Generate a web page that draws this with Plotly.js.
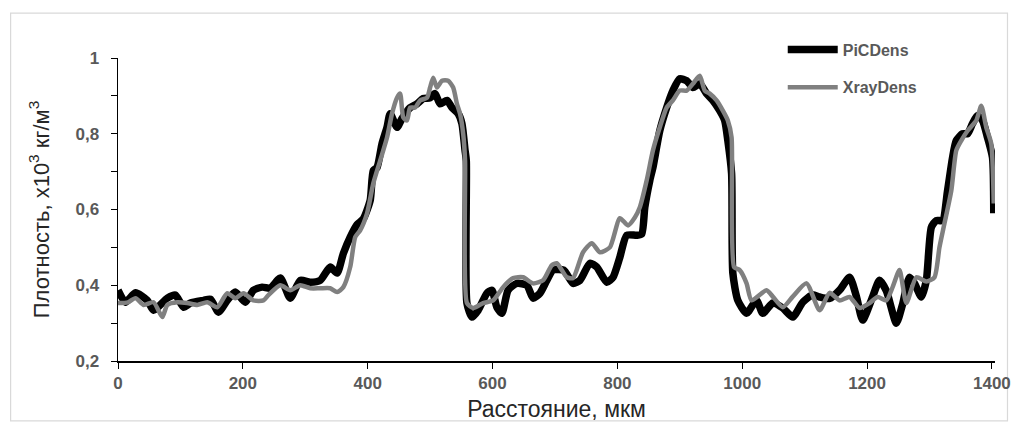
<!DOCTYPE html>
<html>
<head>
<meta charset="utf-8">
<script src="https://cdn.plot.ly/plotly-3.0.1.min.js"></script>
<style>html,body{margin:0;padding:0;background:#fff;}#chart{width:1019px;height:434px;}</style>
</head>
<body>
<div id="chart"></div>
<script>
// PiCDens (black)
var picX = [0,12,28,47,57,79,92,105,116,137,148,161,175,188,204,217,231,244,260,276,292,308,324,340,351,361,372,383,393,404,409,415,423,431,436,447,455,468,479,489,500,508,516,527,535,545,551,556,558,559,567,577,591,599,607,615,625,639,655,665,676,687,697,714,729,740,756,767,783,793,804,815,831,839,844,852,857,868,879,889,900,911,921,932,943,953,964,972,977,983,985,993,1007,1023,1033,1049,1065,1081,1097,1113,1124,1140,1156,1172,1183,1193,1209,1220,1231,1247,1257,1268,1276,1287,1295,1303,1311,1321,1329,1337,1343,1353,1361,1369,1377,1385,1393,1401,1403];
var picY = [0.387,0.355,0.38,0.36,0.334,0.366,0.374,0.342,0.353,0.36,0.363,0.329,0.36,0.382,0.355,0.387,0.395,0.392,0.419,0.366,0.413,0.408,0.413,0.448,0.432,0.484,0.527,0.56,0.575,0.624,0.703,0.711,0.774,0.817,0.853,0.817,0.84,0.869,0.879,0.893,0.895,0.906,0.879,0.888,0.869,0.853,0.827,0.756,0.729,0.353,0.316,0.334,0.379,0.387,0.342,0.326,0.387,0.405,0.40,0.366,0.379,0.413,0.44,0.44,0.405,0.413,0.458,0.448,0.408,0.421,0.474,0.532,0.532,0.535,0.606,0.677,0.711,0.808,0.869,0.914,0.945,0.94,0.922,0.932,0.906,0.888,0.861,0.835,0.782,0.695,0.432,0.36,0.326,0.36,0.326,0.353,0.34,0.316,0.355,0.375,0.369,0.365,0.387,0.421,0.37,0.308,0.37,0.413,0.385,0.30,0.35,0.421,0.405,0.369,0.413,0.553,0.571,0.571,0.65,0.737,0.782,0.80,0.80,0.827,0.848,0.835,0.79,0.737,0.59];

// XrayDens (grey)
var xrayX = [0,16,28,41,57,71,79,95,111,127,143,159,175,188,201,217,233,241,260,276,292,308,324,340,351,361,372,380,388,399,409,420,431,439,447,452,457,463,468,476,484,495,500,505,511,519,529,537,543,548,553,556,559,569,585,601,617,633,649,665,681,695,703,719,729,745,759,772,788,804,817,828,836,847,857,868,879,889,900,911,921,932,940,948,959,969,977,983,987,996,1007,1015,1039,1049,1065,1081,1103,1124,1140,1156,1172,1188,1204,1217,1231,1241,1252,1263,1279,1295,1308,1316,1324,1335,1343,1351,1361,1375,1383,1391,1399,1403];
var xrayY = [0.353,0.355,0.366,0.348,0.355,0.316,0.348,0.355,0.353,0.348,0.355,0.342,0.379,0.366,0.379,0.36,0.36,0.374,0.40,0.387,0.40,0.392,0.392,0.392,0.382,0.395,0.448,0.527,0.545,0.59,0.669,0.729,0.79,0.853,0.895,0.906,0.843,0.835,0.869,0.869,0.888,0.895,0.922,0.948,0.922,0.94,0.94,0.922,0.879,0.853,0.80,0.729,0.353,0.34,0.353,0.36,0.395,0.419,0.421,0.405,0.413,0.453,0.458,0.421,0.419,0.487,0.511,0.487,0.50,0.577,0.558,0.579,0.606,0.677,0.756,0.817,0.869,0.888,0.914,0.914,0.932,0.953,0.914,0.906,0.888,0.861,0.835,0.79,0.448,0.44,0.405,0.36,0.387,0.37,0.342,0.37,0.405,0.334,0.38,0.36,0.369,0.34,0.353,0.369,0.36,0.395,0.44,0.353,0.421,0.41,0.421,0.50,0.563,0.65,0.756,0.782,0.808,0.835,0.874,0.817,0.774,0.616];

var seriesNames = ['PiCDens', 'XrayDens'];
var xTicks = [0,200,400,600,800,1000,1200,1400];
var yTicks = [0.2,0.4,0.6,0.8,1];

var tickFont = {family: 'Liberation Sans, Arial, sans-serif', size: 17, color: '#595959', weight: 'bold'};
var L = 117.5, T = 57.5, W = 878, H = 303.5;

var traces = [
  {x: picX, y: picY, name: seriesNames[0], type: 'scatter', mode: 'lines',
   line: {color: '#000000', width: 7.5, shape: 'spline', smoothing: 0.6}, legendgroup: 'a'},
  {x: xrayX, y: xrayY, name: seriesNames[1], type: 'scatter', mode: 'lines',
   line: {color: '#808080', width: 4.5, shape: 'spline', smoothing: 0.6}, legendgroup: 'b'}
];

function px2pX(p){ return (p - L) / W; }
function px2pY(p){ return (T + H - p) / H; }

var layout = {
  width: 1019, height: 434,
  margin: {l: L, r: 1019 - L - W, t: T, b: 434 - T - H},
  paper_bgcolor: '#ffffff', plot_bgcolor: '#ffffff',
  separators: ', ',
  showlegend: true,
  legend: {
    x: px2pX(783), y: px2pY(32), xanchor: 'left', yanchor: 'top',
    font: {family: 'Liberation Sans, Arial, sans-serif', size: 16, color: '#595959', weight: 'bold'},
    itemwidth: 50, tracegroupgap: 14, bgcolor: 'rgba(0,0,0,0)'
  },
  xaxis: {
    range: [0, 1405], tickvals: xTicks, ticks: 'outside', ticklen: 6, tickwidth: 1, tickcolor: '#000',
    showline: true, linecolor: '#000', linewidth: 1.5, showgrid: false, zeroline: false,
    tickfont: tickFont,
    title: {text: 'Расстояние, мкм', font: {family: 'Liberation Sans, Arial, sans-serif', size: 23, color: '#262626'}, standoff: 9}
  },
  yaxis: {
    range: [0.2, 1.0], tickvals: yTicks, ticks: 'outside', ticklen: 6, tickwidth: 1, tickcolor: '#000',
    minor: {dtick: 0.1, tick0: 0.2, ticks: 'outside', ticklen: 6, tickwidth: 1, tickcolor: '#000'},
    showline: true, linecolor: '#000', linewidth: 1.5, showgrid: false, zeroline: false,
    tickfont: tickFont, ticklabelstandoff: 8,
    title: {text: 'Плотность, х10<sup>3</sup> кг/м<sup>3</sup>', font: {family: 'Liberation Sans, Arial, sans-serif', size: 22, color: '#262626'}, standoff: 20}
  },
  shapes: [{
    type: 'rect', xref: 'paper', yref: 'paper', layer: 'below',
    x0: px2pX(10), x1: px2pX(1008), y0: px2pY(421), y1: px2pY(12.5),
    line: {color: '#d9d9d9', width: 1.2}
  }]
};

Plotly.newPlot('chart', traces, layout, {staticPlot: true, displayModeBar: false});
</script>
</body>
</html>
